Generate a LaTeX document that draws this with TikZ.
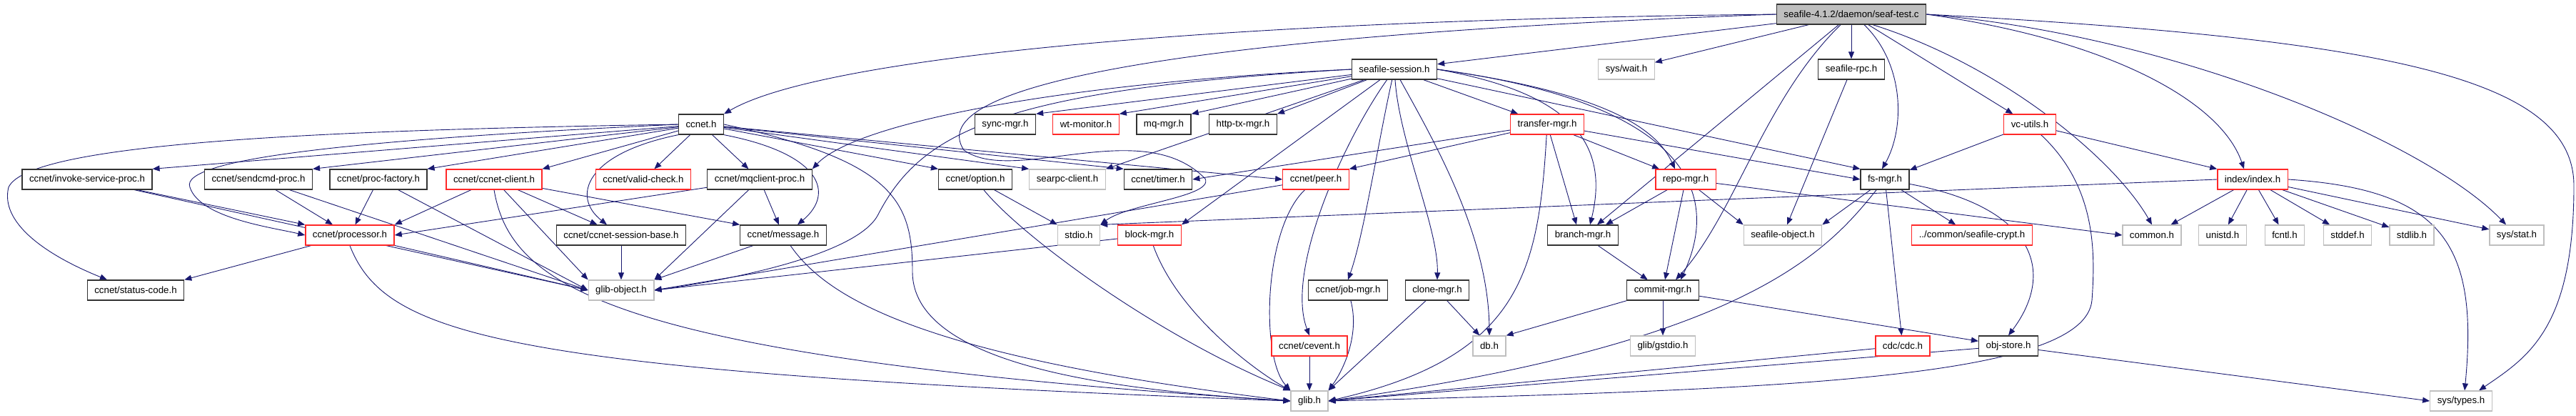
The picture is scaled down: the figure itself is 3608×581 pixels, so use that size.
\documentclass[tikz,border=0pt]{standalone}
\usepackage{fontspec}
\setmainfont{Liberation Sans}
\usepackage{tikz}
\usetikzlibrary{arrows.meta, backgrounds}
\definecolor{depblue}{RGB}{25,25,112}
\definecolor{hdrred}{RGB}{255,40,40}
\definecolor{hdrgray}{RGB}{191,191,191}

\begin{document}
\begin{tikzpicture}[
    x=1pt, y=-1pt,
    hdr/.style={rectangle, draw=black!80, line width=1.3pt, fill=white,
                font=\fontsize{13.3}{16}\selectfont, inner xsep=10pt, inner ysep=0pt,
                minimum height=28pt},
    redhdr/.style={hdr, draw=hdrred},
    syshdr/.style={hdr, draw=hdrgray},
    roothdr/.style={hdr, fill=hdrgray},
    dep/.style={-{Triangle[length=10pt, width=8pt]}, draw=depblue, line width=0.9pt}
]
\useasboundingbox (0,0) rectangle (3608,581);

\node[roothdr] (root) at (2593,20) {seafile-4.1.2/daemon/seaf-test.c};

\node[hdr]    (sess) at (1953,97) {seafile-session.h};
\node[syshdr] (wait) at (2278,97) {sys/wait.h};
\node[hdr]    (rpc)  at (2593,97) {seafile-rpc.h};

\node[hdr]    (ccnet) at (982,174)  {ccnet.h};
\node[hdr]    (sync)  at (1408,174) {sync-mgr.h};
\node[redhdr] (wtmon) at (1521,174) {wt-monitor.h};
\node[hdr]    (mqmgr) at (1630,174) {mq-mgr.h};
\node[hdr]    (http)  at (1741,174) {http-tx-mgr.h};
\node[redhdr] (xfer)  at (2167,174) {transfer-mgr.h};
\node[redhdr] (vc)    at (2843,174) {vc-utils.h};

\node[hdr]    (invoke)   at (122,251)  {ccnet/invoke-service-proc.h};
\node[hdr]    (sendcmd)  at (362,251)  {ccnet/sendcmd-proc.h};
\node[hdr]    (procfac)  at (530,251)  {ccnet/proc-factory.h};
\node[redhdr] (client)   at (692,251)  {ccnet/ccnet-client.h};
\node[redhdr] (valid)    at (901,251)  {ccnet/valid-check.h};
\node[hdr]    (mqclient) at (1064,251) {ccnet/mqclient-proc.h};
\node[hdr]    (option)   at (1366,251) {ccnet/option.h};
\node[syshdr] (searpc)   at (1495,251) {searpc-client.h};
\node[hdr]    (timer)    at (1622,251) {ccnet/timer.h};
\node[redhdr] (peer)     at (1843,251) {ccnet/peer.h};
\node[redhdr] (repo)     at (2361,251) {repo-mgr.h};
\node[hdr]    (fs)       at (2640,251) {fs-mgr.h};
\node[redhdr] (index)    at (3155,251) {index/index.h};

\node[redhdr] (processor) at (490,329)  {ccnet/processor.h};
\node[hdr]    (sessbase)  at (870,329)  {ccnet/ccnet-session-base.h};
\node[hdr]    (message)   at (1097,329) {ccnet/message.h};
\node[syshdr] (stdio)     at (1511,329) {stdio.h};
\node[redhdr] (block)     at (1610,329) {block-mgr.h};
\node[hdr]    (branch)    at (2217,329) {branch-mgr.h};
\node[syshdr] (sobj)      at (2497,329) {seafile-object.h};
\node[redhdr] (crypt)     at (2762,329) {../common/seafile-crypt.h};
\node[syshdr] (common)    at (3014,329) {common.h};
\node[syshdr] (unistd)    at (3113,329) {unistd.h};
\node[syshdr] (fcntl)     at (3200,329) {fcntl.h};
\node[syshdr] (stddef)    at (3288,329) {stddef.h};
\node[syshdr] (stdlib)    at (3378,329) {stdlib.h};
\node[syshdr] (stat)      at (3525,329) {sys/stat.h};

\node[hdr]    (status) at (190,406)  {ccnet/status-code.h};
\node[syshdr] (gobj)   at (870,406)  {glib-object.h};
\node[hdr]    (job)    at (1888,406) {ccnet/job-mgr.h};
\node[hdr]    (clone)  at (2013,406) {clone-mgr.h};
\node[hdr]    (commit) at (2329,406) {commit-mgr.h};

\node[redhdr] (cevent)   at (1834,484) {ccnet/cevent.h};
\node[syshdr] (db)       at (2086,484) {db.h};
\node[syshdr] (gstdio)   at (2329,484) {glib/gstdio.h};
\node[redhdr] (cdc)      at (2665,484) {cdc/cdc.h};
\node[hdr]    (objstore) at (2813,484) {obj-store.h};

\node[syshdr] (glib)  at (1834,561) {glib.h};
\node[syshdr] (types) at (3447,561) {sys/types.h};

\begin{pgfonlayer}{background}
\draw[dep] (root.west) .. controls (1700,28) and (1150,80) .. (ccnet.north east);
\draw[dep] (root) -- (sess);
\draw[dep] (root) -- (wait);
\draw[dep] (root) -- (rpc);
\draw[dep] ([xshift=18pt]root.south) .. controls (2668,90) and (2668,180) .. ([xshift=-4pt]fs.north);
\draw[dep] (root) -- (vc);
\draw[dep] (root.east) .. controls (2950,55) and (3110,140) .. ([xshift=-12pt]index.north);
\draw[dep] ([xshift=30pt]root.south) .. controls (2800,90) and (2960,220) .. (common.north);
\draw[dep] (root.east) .. controls (3050,50) and (3400,200) .. ([xshift=-15pt]stat.north);
\draw[dep] (root.east) .. controls (3350,55) and (3605,110) .. (3605,260) .. controls (3605,460) and (3540,500) .. ([xshift=25pt]types.north);
\draw[dep] (root) -- ([xshift=20pt]branch.north);
\draw[dep] (root) .. controls (2470,140) and (2430,300) .. ([xshift=18pt]commit.north);
\draw[dep] (root.west) .. controls (1650,50) and (1290,120) .. (1350,210) .. controls (1420,260) and (1600,160) .. (1688,250) .. controls (1700,275) and (1580,285) .. (stdio.north east);

\draw[dep] (sess) -- (sync.north east);
\draw[dep] (sess) -- (wtmon.north east);
\draw[dep] (sess) -- (mqmgr.north east);
\draw[dep] (sess) -- (http.north east);
\draw[dep] (sess) -- (xfer);
\draw[dep] (sess.east) .. controls (2250,130) and (2320,180) .. ([xshift=-15pt]repo.north);
\draw[dep] (sess.east) .. controls (2200,130) and (2255,200) .. ([xshift=10pt]branch.north);
\draw[dep] (sess.east) .. controls (2330,140) and (2420,250) .. ([xshift=25pt]commit.north);
\draw[dep] (sess) -- (fs.north west);
\draw[dep] (sess.west) .. controls (1500,115) and (1200,170) .. (mqclient.north east);
\draw[dep] (sess) -- (searpc.north east);
\draw[dep] (sess) -- (block.north east);
\draw[dep] (sess) .. controls (1930,200) and (1910,330) .. (job.north);
\draw[dep] (sess) .. controls (1880,200) and (1800,380) .. (cevent.north);
\draw[dep] (sess) .. controls (1960,200) and (2015,320) .. (clone.north);
\draw[dep] (sess) .. controls (2010,200) and (2085,330) .. (db.north);
\draw[dep] (sess.west) .. controls (1400,125) and (1290,185) .. (1230,300) .. controls (1200,360) and (1000,395) .. (gobj.east);

\draw[dep] (ccnet.west) .. controls (450,182) and (40,200) .. (12,262) .. controls (0,310) and (60,355) .. ([xshift=-40pt]status.north);
\draw[dep] (ccnet.west) .. controls (500,195) and (250,222) .. (266,262) .. controls (280,305) and (380,318) .. (processor.west);
\draw[dep] (ccnet) -- (invoke.north east);
\draw[dep] (ccnet) -- (sendcmd.north east);
\draw[dep] (ccnet) -- (procfac.north east);
\draw[dep] (ccnet) -- (client.north east);
\draw[dep] (ccnet) -- (valid);
\draw[dep] (ccnet) -- (mqclient);
\draw[dep] (ccnet.south west) .. controls (820,215) and (800,275) .. ([xshift=-20pt]sessbase.north);
\draw[dep] (ccnet.south east) .. controls (1150,215) and (1170,270) .. ([xshift=20pt]message.north);
\draw[dep] (ccnet) -- (option.north west);
\draw[dep] (ccnet) -- (searpc.north west);
\draw[dep] (ccnet) -- (timer.north west);
\draw[dep] (ccnet) -- (peer.west);
\draw[dep] (ccnet.east) .. controls (1250,225) and (1278,280) .. (1278,380) .. controls (1278,520) and (1600,548) .. (glib.west);

\draw[dep] (invoke) -- (processor.north west);
\draw[dep] (invoke) -- (gobj.west);
\draw[dep] (sendcmd) -- (processor);
\draw[dep] (sendcmd) -- (gobj.west);
\draw[dep] (procfac) -- (processor);
\draw[dep] (procfac) -- (gobj.west);
\draw[dep] (client) -- (processor.north east);
\draw[dep] (client) -- (sessbase);
\draw[dep] (client) -- (message.north west);
\draw[dep] (client) -- (gobj.north west);
\draw[dep] (client.south) .. controls (715,400) and (850,500) .. (glib.west);
\draw[dep] (mqclient) -- (processor.east);
\draw[dep] (mqclient) -- (message);
\draw[dep] (mqclient) -- (gobj.north east);

\draw[dep] (processor) -- (status.north east);
\draw[dep] (processor) -- (gobj.west);
\draw[dep] (processor.south) .. controls (540,470) and (700,520) .. (glib.west);
\draw[dep] (sessbase) -- (gobj);
\draw[dep] (message) -- (gobj.north east);
\draw[dep] (message) .. controls (1160,420) and (1300,500) .. (glib.west);
\draw[dep] (option) -- (stdio.north west);
\draw[dep] (option) .. controls (1430,330) and (1620,470) .. (glib.north west);
\draw[dep] (peer) -- (gobj.east);
\draw[dep] (peer) .. controls (1770,320) and (1765,500) .. (glib.north west);
\draw[dep] (block) -- (gobj.east);
\draw[dep] (block) .. controls (1650,440) and (1760,520) .. (glib.north west);

\draw[dep] (xfer) -- (timer.east);
\draw[dep] (xfer) -- (peer.north east);
\draw[dep] (xfer) .. controls (2155,380) and (2130,500) .. (glib.east);
\draw[dep] (xfer) -- ([xshift=-9pt]branch.north);
\draw[dep] (xfer) -- (repo);
\draw[dep] (xfer) -- (fs.west);
\draw[dep] (repo) -- ([xshift=32pt]branch.north);
\draw[dep] (repo) -- (commit);
\draw[dep] (repo) -- (sobj.north west);
\draw[dep] (repo) -- (common.west);
\draw[dep] (rpc) -- (sobj);

\draw[dep] (fs) -- (sobj.north east);
\draw[dep] (fs) .. controls (2560,350) and (2450,480) .. (glib.east);
\draw[dep] (fs) -- (cdc);
\draw[dep] (fs) -- (crypt);
\draw[dep] (fs) .. controls (2850,290) and (2880,380) .. (objstore.north);
\draw[dep] (vc) -- (fs);
\draw[dep] (vc) -- (index.north west);
\draw[dep] (vc) .. controls (2935,260) and (2935,350) .. (2930,420) .. controls (2920,530) and (2500,545) .. (glib.east);

\draw[dep] (index.west) -- (stdio.north east);
\draw[dep] (index) -- (common);
\draw[dep] (index) -- (unistd);
\draw[dep] (index) -- (fcntl);
\draw[dep] (index) -- (stddef);
\draw[dep] (index) -- (stdlib);
\draw[dep] (index) -- (stat);
\draw[dep] (index.east) .. controls (3420,265) and (3472,340) .. ([xshift=5pt]types.north);

\draw[dep] (branch) -- (commit);
\draw[dep] (commit) -- (db.north east);
\draw[dep] (commit) -- (gstdio);
\draw[dep] (commit) -- (objstore);
\draw[dep] (job) .. controls (1905,470) and (1880,520) .. (glib.north east);
\draw[dep] (clone) -- (glib.north east);
\draw[dep] (clone) -- (db);
\draw[dep] (cevent) -- (glib);
\draw[dep] (cdc) -- (glib.east);
\draw[dep] (objstore) -- (glib.east);
\draw[dep] (objstore) -- (types.west);
\end{pgfonlayer}
\end{tikzpicture}
\end{document}
